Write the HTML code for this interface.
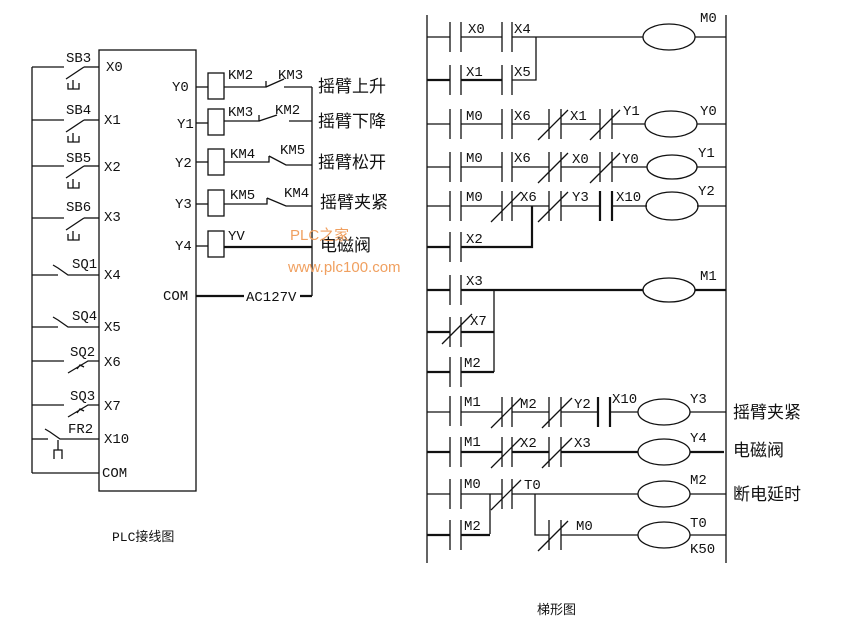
<!DOCTYPE html>
<html><head><meta charset="utf-8"><style>
html,body{margin:0;padding:0;background:#fff}
svg{display:block}
text{font-family:"Liberation Mono","Noto Sans CJK SC",monospace;font-size:14px;fill:#111}
.c{font-family:"Liberation Sans","Noto Sans CJK SC",sans-serif;font-size:17px}
line,path,rect,ellipse,polyline{stroke:#111;fill:none;stroke-width:1.3}
.b{stroke-width:2.2}
</style></head><body>
<svg width="843" height="621" viewBox="0 0 843 621" xmlns="http://www.w3.org/2000/svg">
<rect x="99" y="50" width="97" height="441"/>
<line x1="32" y1="67" x2="32" y2="473"/>
<g>
<line x1="32" y1="67" x2="64" y2="67"/><line x1="66" y1="79" x2="84" y2="67"/><line x1="84" y1="67" x2="99" y2="67"/><path d="M68 83 v6 h11 v-6 M73 80 v9"/>
<line x1="32" y1="120" x2="64" y2="120"/><line x1="66" y1="132" x2="84" y2="120"/><line x1="84" y1="120" x2="99" y2="120"/><path d="M68 136 v6 h11 v-6 M73 133 v9"/>
<line x1="32" y1="166" x2="64" y2="166"/><line x1="66" y1="178" x2="84" y2="166"/><line x1="84" y1="166" x2="99" y2="166"/><path d="M68 182 v6 h11 v-6 M73 179 v9"/>
<line x1="32" y1="218" x2="64" y2="218"/><line x1="66" y1="230" x2="84" y2="218"/><line x1="84" y1="218" x2="99" y2="218"/><path d="M68 234 v6 h11 v-6 M73 231 v9"/>
<line x1="32" y1="275" x2="58" y2="275"/><path d="M53 265 l5 3 l10 7 h31"/>
<line x1="32" y1="327" x2="58" y2="327"/><path d="M53 317 l5 3 l10 7 h31"/>
<line x1="32" y1="361" x2="64" y2="361"/><path d="M68 373 l20 -12 h11 M77 369 l3 -4 l4 2"/>
<line x1="32" y1="405" x2="64" y2="405"/><path d="M68 417 l20 -12 h11 M77 413 l3 -4 l4 2"/>
<line x1="32" y1="439" x2="48" y2="439"/><path d="M45 429 l5 3 l10 7 h39 M58 440 v10 M54 459 v-9 h8 v9"/>
<line x1="32" y1="473" x2="99" y2="473"/>
</g>
<text x="66" y="62">SB3</text><text x="66" y="114">SB4</text><text x="66" y="162">SB5</text><text x="66" y="211">SB6</text>
<text x="72" y="268">SQ1</text><text x="72" y="320">SQ4</text><text x="70" y="356">SQ2</text><text x="70" y="400">SQ3</text><text x="68" y="433">FR2</text>
<text x="106" y="71">X0</text><text x="104" y="124">X1</text><text x="104" y="171">X2</text><text x="104" y="221">X3</text><text x="104" y="279">X4</text><text x="104" y="331">X5</text><text x="104" y="366">X6</text><text x="104" y="410">X7</text><text x="104" y="443">X10</text><text x="102" y="477">COM</text>
<text x="172" y="91">Y0</text><text x="177" y="128">Y1</text><text x="175" y="167">Y2</text><text x="175" y="208">Y3</text><text x="175" y="250">Y4</text><text x="163" y="300">COM</text>
<line x1="196" y1="87" x2="208" y2="87"/><line x1="196" y1="123" x2="208" y2="123"/><line x1="196" y1="162" x2="208" y2="162"/><line x1="196" y1="204" x2="208" y2="204"/><line x1="196" y1="246" x2="208" y2="246"/>
<rect x="208" y="73" width="16" height="26"/><rect x="208" y="109" width="16" height="26"/><rect x="208" y="149" width="16" height="26"/><rect x="208" y="190" width="16" height="26"/><rect x="208" y="231" width="16" height="26"/>
<path d="M224 87 h42 v-6 M266 87 l18 -8 M284 87 h28"/>
<path d="M224 121 h35 v-6 M259 121 l18 -6 M289 121 h23"/>
<path d="M224 162 h45 v-6 M269 156 l17 9 h26"/>
<path d="M224 204 h43 v-6 M267 198 l19 8 h26"/>
<line x1="224" y1="247" x2="312" y2="247" class="b"/>
<line x1="312" y1="87" x2="312" y2="296"/>
<path d="M196 296 h48 M300 296 h12" class="b"/>
<text x="228" y="79">KM2</text><text x="278" y="79">KM3</text>
<text x="228" y="116">KM3</text><text x="275" y="114">KM2</text>
<text x="230" y="158">KM4</text><text x="280" y="154">KM5</text>
<text x="230" y="199">KM5</text><text x="284" y="197">KM4</text>
<text x="228" y="240">YV</text><text x="246" y="301">AC127V</text>
<text class="c" x="318" y="92">摇臂上升</text><text class="c" x="318" y="127">摇臂下降</text><text class="c" x="318" y="168">摇臂松开</text><text class="c" x="320" y="208">摇臂夹紧</text><text class="c" x="320" y="251">电磁阀</text>
<text x="290" y="240" style="fill:#f0a060;font-family:'Liberation Sans','Noto Sans CJK SC',sans-serif;font-size:15px">PLC之家</text>
<text x="288" y="272" style="fill:#f0a060;font-family:'Liberation Sans',sans-serif;font-size:15px">www.plc100.com</text>
<text x="112" y="541" style="font-size:13px">PLC接线图</text>
<line x1="427" y1="15" x2="427" y2="563"/><line x1="726" y1="15" x2="726" y2="563"/>
<g>
<path d="M450 22v30M461 22v30 M450 65v30M461 65v30 M450 109v30M461 109v30 M450 152v30M461 152v30 M450 191v30M461 191v30 M450 232v30M461 232v30 M450 275v30M461 275v30 M450 317v30M461 317v30 M450 357v30M461 357v30 M450 396v30M461 396v30 M450 437v30M461 437v30 M450 479v30M461 479v30 M450 520v30M461 520v30"/>
</g>
<path d="M427 37h23 M461 37h41 M512 37h131 M695 37h31"/><path d="M502 22v30M512 22v30"/><ellipse cx="669" cy="37" rx="26" ry="13"/>
<path d="M512 80h24 V37" /><line x1="427" y1="80" x2="450" y2="80" class="b"/><line x1="461" y1="80" x2="502" y2="80" class="b"/><path d="M502 65v30M512 65v30"/>
<text x="468" y="33">X0</text><text x="514" y="33">X4</text><text x="700" y="22">M0</text><text x="466" y="76">X1</text><text x="514" y="76">X5</text>
<path d="M427 124h23 M461 124h41 M512 124h37 M561 124h39 M612 124h33 M697 124h29"/><path d="M502 109v30M512 109v30 M549 109v30M561 109v30 M600 109v30M612 109v30" /><path d="M538 140l30 -30 M590 140l30 -30"/><ellipse cx="671" cy="124" rx="26" ry="13"/>
<text x="466" y="120">M0</text><text x="514" y="120">X6</text><text x="570" y="120">X1</text><text x="623" y="115">Y1</text><text x="700" y="115">Y0</text>
<path d="M427 167h23 M461 167h41 M512 167h37 M561 167h39 M612 167h35 M697 167h29"/><path d="M502 152v30M512 152v30 M549 152v30M561 152v30 M600 152v30M612 152v30"/><path d="M538 183l30 -30 M590 183l30 -30"/><ellipse cx="672" cy="167" rx="25" ry="12"/>
<text x="466" y="162">M0</text><text x="514" y="162">X6</text><text x="572" y="163">X0</text><text x="622" y="163">Y0</text><text x="698" y="157">Y1</text>
<path d="M427 206h23 M461 206h41 M512 206h37 M561 206h39 M612 206h35 M697 206h29"/><path d="M502 191v30M512 191v30 M549 191v30M561 191v30"/><path d="M600 191v30M612 191v30" class="b"/><path d="M491 222l30 -30 M538 222l30 -30"/><ellipse cx="672" cy="206" rx="26" ry="14"/>
<text x="466" y="201">M0</text><text x="520" y="201">X6</text><text x="572" y="201">Y3</text><text x="616" y="201">X10</text><text x="698" y="195">Y2</text>
<path d="M427 247h23 M461 247h71 V206" class="b"/><text x="466" y="243">X2</text>
<path d="M427 290h23 M461 290h182 M695 290h31" class="b"/><ellipse cx="669" cy="290" rx="26" ry="12"/><line x1="494" y1="290" x2="494" y2="372"/>
<text x="466" y="285">X3</text><text x="700" y="280">M1</text>
<path d="M427 332h23 M461 332h33 M427 372h23 M461 372h33" class="b"/><path d="M442 344l30 -30"/>
<text x="470" y="325">X7</text><text x="464" y="367">M2</text>
<path d="M427 412h23 M461 412h41 M512 412h37 M561 412h38 M611 412h27 M690 412h36"/><path d="M502 397v30M512 397v30 M549 397v30M561 397v30"/><path d="M598 397v30M610 397v30" class="b"/><path d="M491 428l30 -30 M542 428l30 -30"/><ellipse cx="664" cy="412" rx="26" ry="13"/>
<text x="464" y="406">M1</text><text x="520" y="408">M2</text><text x="574" y="408">Y2</text><text x="612" y="403">X10</text><text x="690" y="403">Y3</text><text class="c" x="733" y="418">摇臂夹紧</text>
<path d="M427 452h23 M461 452h41 M512 452h37 M561 452h77 M690 452h34" class="b"/><path d="M502 437v30M512 437v30 M549 437v30M561 437v30"/><path d="M491 468l30 -30 M542 468l30 -30"/><ellipse cx="664" cy="452" rx="26" ry="13"/>
<text x="464" y="446">M1</text><text x="520" y="447">X2</text><text x="574" y="447">X3</text><text x="690" y="442">Y4</text><text class="c" x="733" y="456">电磁阀</text>
<path d="M427 494h23 M461 494h41 M512 494h126 M690 494h36"/><path d="M502 479v30M512 479v30"/><path d="M491 510l30 -30"/><ellipse cx="664" cy="494" rx="26" ry="13"/>
<path d="M490 494v40 M535 494v41h14 M561 535h77 M690 535h36"/><path d="M549 520v30M561 520v30"/><path d="M538 551l30 -30"/><ellipse cx="664" cy="535" rx="26" ry="13"/>
<path d="M427 535h23 M461 535h29" class="b"/>
<text x="464" y="488">M0</text><text x="524" y="489">T0</text><text x="690" y="484">M2</text><text class="c" x="733" y="500">断电延时</text>
<text x="464" y="530">M2</text><text x="576" y="530">M0</text><text x="690" y="527">T0</text><text x="690" y="553">K50</text>
<text x="537" y="614" style="font-size:13px;font-family:'Liberation Sans','Noto Sans CJK SC',sans-serif">梯形图</text>
</svg>
</body></html>
